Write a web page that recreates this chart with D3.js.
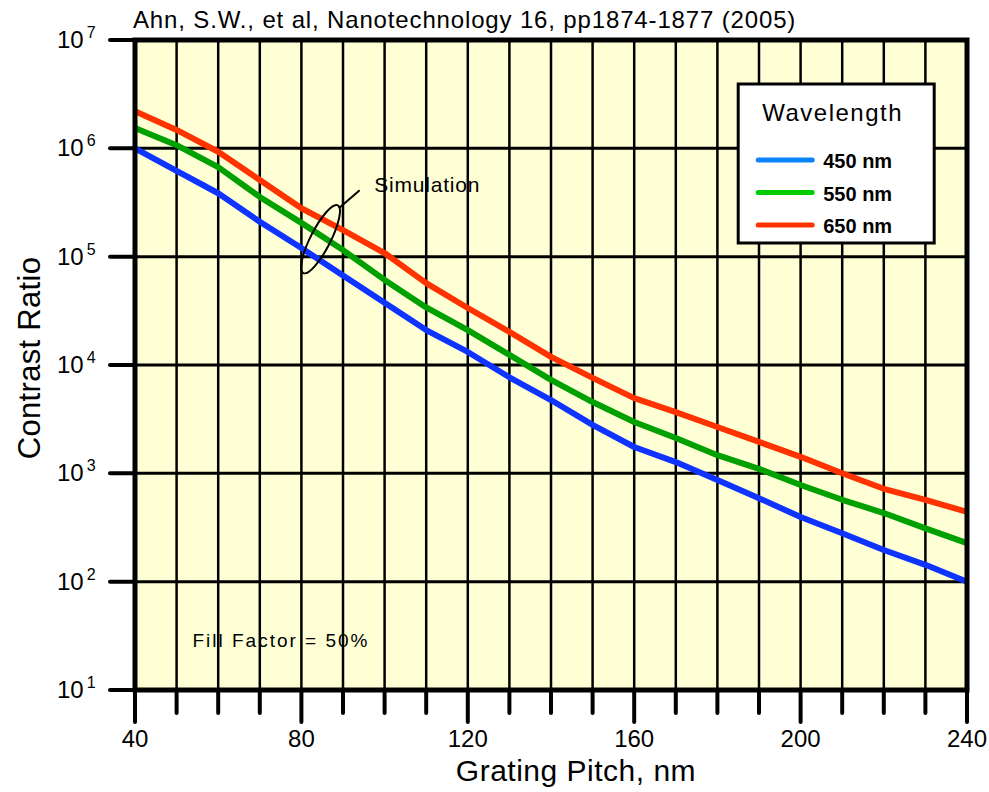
<!DOCTYPE html>
<html>
<head>
<meta charset="utf-8">
<script src="https://cdn.jsdelivr.net/npm/d3@7"></script>
<style>
  body { margin: 0; background: #fff; }
  text { font-family: 'Liberation Sans', Arial, sans-serif; fill: #000; }
</style>
</head>
<body>
<div class="chart"></div>
<script>
'use strict';

const pitch = [40, 50, 60, 70, 80, 90, 100, 110, 120, 130, 140, 150, 160, 170, 180, 190, 200, 210, 220, 230, 240];
const cr450 = [1.0e6, 6.2e5, 3.85e5, 2.1e5, 1.2e5, 6.7e4, 3.75e4, 2.1e4, 1.32e4, 7.7e3, 4.75e3, 2.8e3, 1.75e3, 1.27e3, 8.7e2, 5.9e2, 3.95e2, 2.8e2, 1.96e2, 1.43e2, 1.0e2];
const cr550 = [1.54e6, 1.07e6, 6.7e5, 3.56e5, 2.05e5, 1.15e5, 6.1e4, 3.4e4, 2.1e4, 1.24e4, 7.3e3, 4.55e3, 2.98e3, 2.12e3, 1.47e3, 1.1e3, 7.8e2, 5.7e2, 4.3e2, 3.1e2, 2.27e2];
const cr650 = [2.2e6, 1.48e6, 9.3e5, 5.1e5, 2.8e5, 1.76e5, 1.08e5, 5.7e4, 3.36e4, 2.02e4, 1.19e4, 7.6e3, 4.95e3, 3.68e3, 2.68e3, 1.95e3, 1.42e3, 1.0e3, 7.2e2, 5.7e2, 4.4e2];

const seriesNames = ['450 nm', '550 nm', '650 nm'];
const lineColors = ['#1034ff', '#00a000', '#ff3300'];
const legendColors = ['#0a84ff', '#00cc00', '#ff3300'];

const xMajorTicks = [40, 80, 120, 160, 200, 240];
const xMinorTicks = d3.range(40, 241, 10);
const yExponents = [1, 2, 3, 4, 5, 6, 7];

const margin = {
  top: 40,
  right: 22,
  bottom: 102,
  left: 135
};

const FULL_WIDTH = 989;
const FULL_HEIGHT = 792;
const WIDTH = FULL_WIDTH - margin.left - margin.right;
const HEIGHT = FULL_HEIGHT - margin.top - margin.bottom;

const svg = d3.select('.chart')
  .append('svg')
    .attr('width', FULL_WIDTH)
    .attr('height', FULL_HEIGHT)
  .append('g')
    .attr('transform', 'translate(' + margin.left + ',' + margin.top + ')');

const x = d3.scaleLinear()
  .domain([40, 240])
  .range([0, WIDTH]);

const y = d3.scaleLog()
  .domain([10, 1e7])
  .range([HEIGHT, 0]);

// plot background
svg.append('rect')
  .attr('width', WIDTH)
  .attr('height', HEIGHT)
  .attr('fill', '#ffffd6');

// vertical grid every 10 nm
svg.selectAll('.vgrid')
  .data(xMinorTicks)
  .enter()
  .append('line')
  .attr('class', 'vgrid')
  .attr('x1', (d) => x(d))
  .attr('x2', (d) => x(d))
  .attr('y1', 0)
  .attr('y2', HEIGHT)
  .attr('stroke', '#000')
  .attr('stroke-width', 2.5);

// horizontal grid at decades
svg.selectAll('.hgrid')
  .data(yExponents)
  .enter()
  .append('line')
  .attr('class', 'hgrid')
  .attr('x1', 0)
  .attr('x2', WIDTH)
  .attr('y1', (d) => y(Math.pow(10, d)))
  .attr('y2', (d) => y(Math.pow(10, d)))
  .attr('stroke', '#000')
  .attr('stroke-width', 3);

// x ticks (minor + major)
svg.selectAll('.xtick')
  .data(xMinorTicks)
  .enter()
  .append('line')
  .attr('class', 'xtick')
  .attr('x1', (d) => x(d))
  .attr('x2', (d) => x(d))
  .attr('y1', HEIGHT)
  .attr('y2', (d) => HEIGHT + (xMajorTicks.includes(d) ? 32 : 23))
  .attr('stroke', '#000')
  .attr('stroke-width', 4)
  .attr('stroke-linecap', 'round');

svg.selectAll('.xlabel')
  .data(xMajorTicks)
  .enter()
  .append('text')
  .attr('class', 'xlabel')
  .attr('x', (d) => x(d))
  .attr('y', HEIGHT + 57)
  .attr('text-anchor', 'middle')
  .attr('font-size', 24)
  .text((d) => d);

// y ticks
svg.selectAll('.ytick')
  .data(yExponents)
  .enter()
  .append('line')
  .attr('class', 'ytick')
  .attr('x1', -25)
  .attr('x2', 0)
  .attr('y1', (d) => y(Math.pow(10, d)))
  .attr('y2', (d) => y(Math.pow(10, d)))
  .attr('stroke', '#000')
  .attr('stroke-width', 4)
  .attr('stroke-linecap', 'round');

const ylab = svg.selectAll('.ylabel')
  .data(yExponents)
  .enter()
  .append('text')
  .attr('class', 'ylabel')
  .attr('x', -78)
  .attr('y', (d) => y(Math.pow(10, d)) + 8)
  .attr('font-size', 24);
ylab.append('tspan').text('10');
ylab.append('tspan')
  .attr('dx', 3)
  .attr('dy', -10)
  .attr('font-size', 16)
  .text((d) => d);

// data lines
const line = d3.line()
  .x((d) => x(d[0]))
  .y((d) => y(d[1]));

[cr450, cr550, cr650].forEach((vals, i) => {
  svg.append('path')
    .datum(pitch.map((p, j) => [p, vals[j]]))
    .attr('fill', 'none')
    .attr('stroke', lineColors[i])
    .attr('stroke-width', 6)
    .attr('stroke-linejoin', 'round')
    .attr('d', line);
});

// frame
svg.append('rect')
  .attr('width', WIDTH)
  .attr('height', HEIGHT)
  .attr('fill', 'none')
  .attr('stroke', '#000')
  .attr('stroke-width', 5);

// simulation annotation
const cx = x(84.6), cy = y(1.45e5);
svg.append('ellipse')
  .attr('transform', 'translate(' + cx + ',' + cy + ') rotate(-63)')
  .attr('rx', 38)
  .attr('ry', 10)
  .attr('fill', 'none')
  .attr('stroke', '#000')
  .attr('stroke-width', 2);
svg.append('line')
  .attr('x1', x(89))
  .attr('y1', y(2.8e5))
  .attr('x2', x(94))
  .attr('y2', y(4.1e5))
  .attr('stroke', '#000')
  .attr('stroke-width', 2);
svg.append('text')
  .attr('x', x(97.5))
  .attr('y', y(4.2e5) + 3)
  .attr('font-size', 21)
  .attr('letter-spacing', 0.8)
  .text('Simulation');

svg.append('text')
  .attr('x', x(53.8))
  .attr('y', y(30) + 9)
  .attr('font-size', 19)
  .attr('letter-spacing', 2)
  .text('Fill Factor = 50%');

// legend
const legend = svg.append('g')
  .attr('transform', 'translate(' + x(185) + ',' + 44 + ')');
legend.append('rect')
  .attr('width', 196)
  .attr('height', 159)
  .attr('fill', '#fff')
  .attr('stroke', '#000')
  .attr('stroke-width', 3);
legend.append('text')
  .attr('x', 24)
  .attr('y', 37)
  .attr('font-size', 24)
  .attr('letter-spacing', 1.5)
  .text('Wavelength');
seriesNames.forEach((name, i) => {
  const ly = 76 + i * 32.5;
  legend.append('line')
    .attr('x1', 20)
    .attr('x2', 74)
    .attr('y1', ly)
    .attr('y2', ly)
    .attr('stroke', legendColors[i])
    .attr('stroke-width', 5)
    .attr('stroke-linecap', 'round');
  legend.append('text')
    .attr('x', 85)
    .attr('y', ly + 8)
    .attr('font-size', 20)
    .attr('font-weight', 'bold')
    .text(name);
});

// titles
svg.append('text')
  .attr('x', -2)
  .attr('y', -12)
  .attr('font-size', 24)
  .attr('letter-spacing', 0.85)
  .text('Ahn, S.W., et al, Nanotechnology 16, pp1874-1877 (2005)');

svg.append('text')
  .attr('x', x(146))
  .attr('y', HEIGHT + 91)
  .attr('text-anchor', 'middle')
  .attr('font-size', 30)
  .attr('letter-spacing', 0.5)
  .text('Grating Pitch, nm');

svg.append('text')
  .attr('transform', 'translate(' + (-95) + ',' + (HEIGHT / 2 - 7) + ') rotate(-90)')
  .attr('text-anchor', 'middle')
  .attr('font-size', 31)
  .attr('letter-spacing', 0.3)
  .text('Contrast Ratio');
</script>
</body>
</html>
